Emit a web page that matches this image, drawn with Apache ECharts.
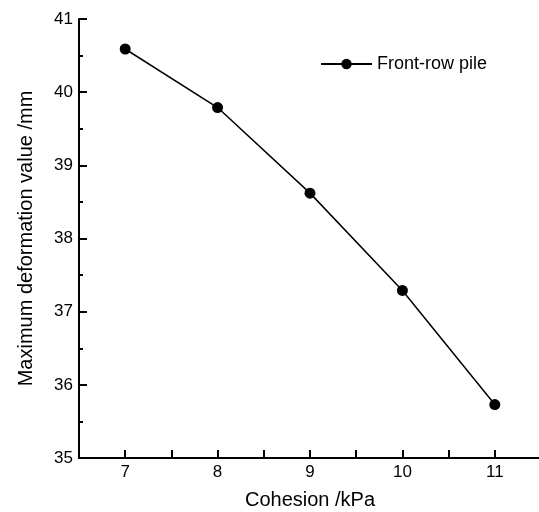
<!DOCTYPE html>
<html>
<head>
<meta charset="utf-8">
<script src="https://cdn.jsdelivr.net/npm/echarts@6/dist/echarts.min.js"></script>
<style>
  html, body { margin: 0; padding: 0; background: #fff; }
  #chart { width: 539px; height: 512px; }
</style>
</head>
<body>
<div id="chart"></div>
<script>
// 数据
const cohesion = [7, 8, 9, 10, 11];
const frontRowPile = [40.59, 39.79, 38.62, 37.29, 35.73];
const seriesName = 'Front-row pile';

const myChart = echarts.init(document.getElementById('chart'));
const font = '"Liberation Sans", Arial, sans-serif';

const isInt = function (v) { return Math.abs(v - Math.round(v)) < 1e-6; };

const option = {
    animation: false,
    textStyle: { fontFamily: font },
    grid: {
        left: 79,
        top: 19,
        right: -2,
        bottom: 54,
        outerBoundsMode: 'none'
    },
    legend: {
        data: [seriesName],
        left: 315,
        top: 50,
        itemWidth: 51,
        itemHeight: 13,
        textStyle: { fontSize: 18, color: '#000', fontFamily: font }
    },
    xAxis: [
        {
            // 主轴: 标签 + 短刻度(0.5)
            type: 'value',
            position: 'bottom',
            min: 6.5,
            max: 11.5,
            interval: 0.5,
            name: 'Cohesion /kPa',
            nameLocation: 'middle',
            nameGap: 32,
            nameTextStyle: { fontSize: 20, color: '#000', fontFamily: font },
            axisLine: { show: true, lineStyle: { color: '#000', width: 2 } },
            axisTick: { inside: true, length: 4, lineStyle: { color: '#000', width: 2 } },
            axisLabel: {
                fontSize: 17,
                color: '#000',
                margin: 6,
                formatter: function (v) { return isInt(v) ? String(v) : ''; }
            },
            splitLine: { show: false }
        },
        {
            // 整数处的长刻度
            type: 'value',
            position: 'bottom',
            min: 6.5,
            max: 11.5,
            interval: 0.5,
            axisLine: { show: false },
            axisTick: {
                inside: true,
                length: 8,
                lineStyle: { color: '#000', width: 2 },
                interval: function (index, value) { return isInt(Number(value)); }
            },
            axisLabel: { show: false },
            splitLine: { show: false }
        }
    ],
    yAxis: {
        type: 'value',
        min: 35,
        max: 41,
        interval: 1,
        name: 'Maximum deformation value /mm',
        nameLocation: 'middle',
        nameGap: 43,
        nameTextStyle: { fontSize: 20, color: '#000', fontFamily: font },
        axisLine: { show: true, lineStyle: { color: '#000', width: 2 } },
        axisTick: { inside: true, length: 8, lineStyle: { color: '#000', width: 2 } },
        minorTick: { show: true, splitNumber: 2, length: 4, lineStyle: { color: '#000', width: 2 } },
        axisLabel: { fontSize: 17, color: '#000', margin: 6 },
        splitLine: { show: false }
    },
    series: [
        {
            name: seriesName,
            type: 'line',
            data: cohesion.map(function (c, i) { return [c, frontRowPile[i]]; }),
            symbol: 'circle',
            symbolSize: 11,
            lineStyle: { color: '#000', width: 1.5 },
            itemStyle: { color: '#000' }
        }
    ]
};

myChart.setOption(option);
</script>
</body>
</html>
